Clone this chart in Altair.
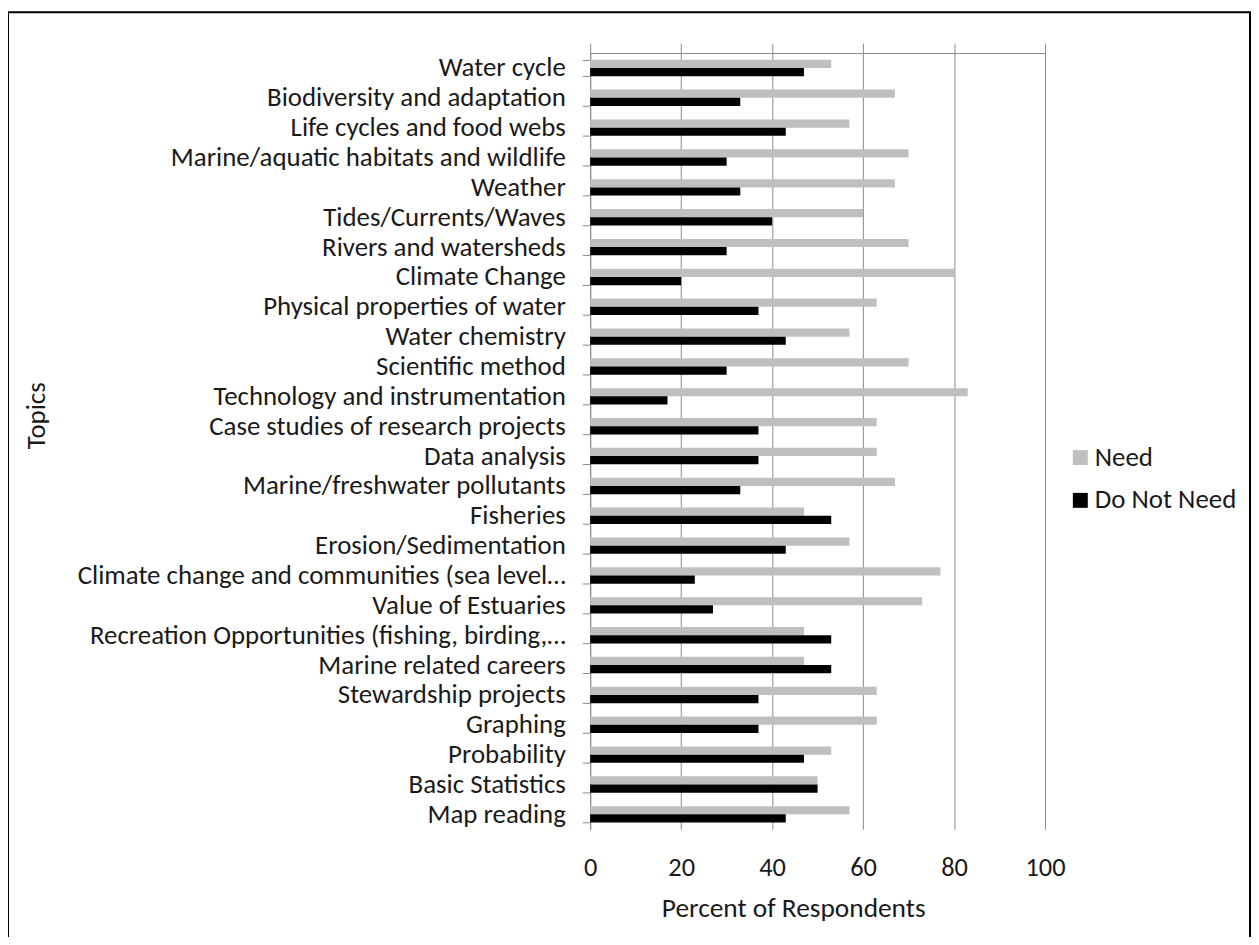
import altair as alt
import pandas as pd

topics = [
    "Water cycle", "Biodiversity and adaptation", "Life cycles and food webs",
    "Marine/aquatic habitats and wildlife", "Weather", "Tides/Currents/Waves",
    "Rivers and watersheds", "Climate Change", "Physical properties of water",
    "Water chemistry", "Scientific method", "Technology and instrumentation",
    "Case studies of research projects", "Data analysis", "Marine/freshwater pollutants",
    "Fisheries", "Erosion/Sedimentation", "Climate change and communities (sea level\u2026",
    "Value of Estuaries", "Recreation Opportunities (fishing, birding,\u2026",
    "Marine related careers", "Stewardship projects", "Graphing", "Probability",
    "Basic Statistics", "Map reading",
]
need = [53, 67, 57, 70, 67, 60, 70, 80, 63, 57, 70, 83, 63, 63, 67, 47, 57, 77, 73, 47, 47, 63, 63, 53, 50, 57]
do_not_need = [47, 33, 43, 30, 33, 40, 30, 20, 37, 43, 30, 17, 37, 37, 33, 53, 43, 23, 27, 53, 53, 37, 37, 47, 50, 43]
series = ["Need", "Do Not Need"]
colors = ["#bfbfbf", "#000000"]
x_ticks = [0, 20, 40, 60, 80, 100]

df = pd.DataFrame({
    "Topic": topics * 2,
    "Series": [series[0]] * len(topics) + [series[1]] * len(topics),
    "Value": need + do_not_need,
})

FONT = "Calibri, Carlito, 'Open Sans', sans-serif"
GRID = "#8a8a8a"
TEXT = "#1a1a1a"

bars = alt.Chart(df).mark_bar().encode(
    y=alt.Y(
        "Topic:N", sort=topics,
        scale=alt.Scale(paddingInner=0.45, paddingOuter=0.225),
        axis=alt.Axis(
            title="Topics", tickBand="extent", ticks=True, tickSize=8,
            tickColor=GRID, domainColor=GRID, labelPadding=17, labelLimit=700,
            labelFontSize=27, titleFontSize=27,
            grid=False, titleX=-556, titleY=364, titleAngle=270,
            titleAlign="center", titleBaseline="middle",
        ),
    ),
    yOffset=alt.YOffset("Series:N", sort=series,
                        scale=alt.Scale(paddingInner=0, paddingOuter=0)),
    x=alt.X(
        "Value:Q",
        scale=alt.Scale(domain=[0, 100], nice=False),
        axis=alt.Axis(
            orient="top", values=x_ticks, grid=True, gridColor=GRID,
            ticks=True, tickSize=10, tickColor=GRID, domainColor=GRID,
            labelPadding=-836, labelBaseline="alphabetic", labelFlush=False,
            labelFontSize=26.5, titleFontSize=27.5,
            title="Percent of Respondents", titleX=204, titleY=868,
            titleBaseline="alphabetic", titleAlign="center",
        ),
    ),
    color=alt.Color(
        "Series:N", sort=series,
        scale=alt.Scale(domain=series, range=colors),
        legend=alt.Legend(
            title=None, orient="none", legendX=479, legendY=393,
            symbolType="square", symbolSize=225, symbolStrokeWidth=0,
            labelOffset=1, rowPadding=15, padding=0, labelFontSize=27,
        ),
    ),
)

frame = alt.Chart(pd.DataFrame({"f": [0]})).mark_rect(
    fillOpacity=0, stroke="black", strokeWidth=2
).encode(
    x=alt.value(-585), x2=alt.value(663), y=alt.value(-41), y2=alt.value(930)
)

chart = alt.layer(bars, frame).properties(
    width=457, height=780,
    autosize=alt.AutoSizeParams(type="none"),
    padding={"left": 585, "top": 43, "right": 207, "bottom": 106},
).configure_axis(
    labelFont=FONT, titleFont=FONT,
    labelColor=TEXT, titleColor=TEXT, titleFontWeight="normal",
).configure_legend(
    labelFont=FONT, labelColor=TEXT,
).configure_view(strokeWidth=0)

chart.save("out.html", embed_options={"renderer": "svg", "actions": False})
